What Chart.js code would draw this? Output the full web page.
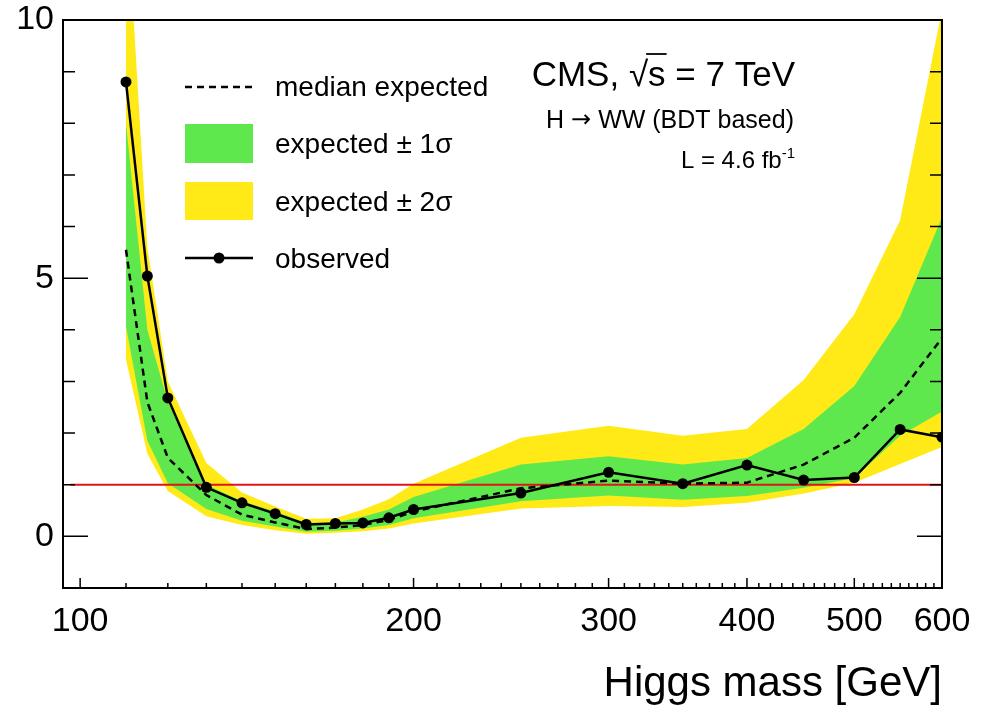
<!DOCTYPE html>
<html>
<head>
<meta charset="utf-8">
<script src="https://cdn.jsdelivr.net/npm/chart.js@4/dist/chart.umd.min.js"></script>
<style>
html,body{margin:0;padding:0;background:#fff;}
#wrap{width:990px;height:705px;position:relative;}
</style>
</head>
<body>
<div id="wrap"><canvas id="c" width="990" height="705"></canvas></div>
<script>
// ---- data ----
const masses      = [110, 115, 120, 130, 140, 150, 160, 170, 180, 190, 200, 250, 300, 350, 400, 450, 500, 550, 600];
const observed    = [8.80, 5.04, 2.68, 0.95, 0.65, 0.44, 0.23, 0.25, 0.26, 0.36, 0.52, 0.84, 1.24, 1.02, 1.38, 1.09, 1.14, 2.07, 1.92];
const medianExp   = [5.55, 2.60, 1.52, 0.80, 0.42, 0.27, 0.14, 0.17, 0.22, 0.32, 0.48, 0.93, 1.08, 1.02, 1.04, 1.39, 1.91, 2.78, 3.84];
const sigma1Up    = [8.00, 4.00, 2.60, 1.00, 0.68, 0.48, 0.26, 0.27, 0.38, 0.52, 0.76, 1.39, 1.55, 1.39, 1.52, 2.08, 2.91, 4.25, 6.18];
const sigma1Down  = [4.06, 1.85, 1.03, 0.53, 0.30, 0.19, 0.09, 0.11, 0.15, 0.22, 0.35, 0.68, 0.79, 0.71, 0.78, 0.94, 1.13, 1.95, 2.42];
const sigma2Up    = [12.5, 5.60, 3.00, 1.42, 0.85, 0.58, 0.34, 0.35, 0.52, 0.72, 1.02, 1.91, 2.14, 1.95, 2.08, 3.03, 4.30, 6.12, 10.2];
const sigma2Down  = [3.42, 1.60, 0.88, 0.39, 0.22, 0.12, 0.05, 0.07, 0.10, 0.15, 0.25, 0.54, 0.59, 0.57, 0.65, 0.83, 1.04, 1.40, 1.73];
const smLineX     = [98, 600];
const smLineY     = [1, 1];

const xMajorTicks = [100, 200, 300, 400, 500, 600];
const xMinorTicks = [110, 120, 130, 140, 150, 160, 170, 180, 190,
                     210, 220, 230, 240, 250, 260, 270, 280, 290,
                     310, 320, 330, 340, 350, 360, 370, 380, 390,
                     410, 420, 430, 440, 450, 460, 470, 480, 490,
                     510, 520, 530, 540, 550, 560, 570, 580, 590];
const yMajorTicks = [0, 5, 10];
const yMinorTicks = [-1, 1, 2, 3, 4, 6, 7, 8, 9];

const legendLabels = ['median expected', 'expected \u00b1 1\u03c3', 'expected \u00b1 2\u03c3', 'observed'];

const FONT = "'Liberation Sans', Arial, Helvetica, sans-serif";
const GREEN = '#5fe84e';
const YELLOW = '#ffea17';
const RED = '#e0141a';

const pts = arr => masses.map((m, i) => ({x: m, y: arr[i]}));

const framePlugin = {
  id: 'frame',
  afterDraw(chart) {
    const ctx = chart.ctx, a = chart.chartArea;
    const xs = chart.scales.x, ys = chart.scales.y;
    ctx.save();
    ctx.strokeStyle = '#000';
    // ticks
    ctx.lineWidth = 1.5;
    ctx.beginPath();
    xMajorTicks.forEach(v => { const p = xs.getPixelForValue(v); ctx.moveTo(p, a.bottom); ctx.lineTo(p, a.bottom - 10); });
    xMinorTicks.forEach(v => { const p = xs.getPixelForValue(v); ctx.moveTo(p, a.bottom); ctx.lineTo(p, a.bottom - 5); });
    yMajorTicks.forEach(v => { const p = ys.getPixelForValue(v);
      ctx.moveTo(a.left, p); ctx.lineTo(a.left + 25, p);
      ctx.moveTo(a.right, p); ctx.lineTo(a.right - 25, p); });
    yMinorTicks.forEach(v => { const p = ys.getPixelForValue(v);
      ctx.moveTo(a.left, p); ctx.lineTo(a.left + 12, p);
      ctx.moveTo(a.right, p); ctx.lineTo(a.right - 12, p); });
    ctx.stroke();
    // frame
    ctx.lineWidth = 2;
    ctx.strokeRect(a.left, a.top, a.right - a.left, a.bottom - a.top);

    // legend
    const lx0 = 185, lx1 = 253, tx = 275;
    ctx.lineWidth = 2.5;
    ctx.setLineDash([7, 5]);
    ctx.beginPath(); ctx.moveTo(lx0, 87); ctx.lineTo(lx1, 87); ctx.stroke();
    ctx.setLineDash([]);
    ctx.fillStyle = GREEN; ctx.fillRect(lx0, 124, lx1 - lx0, 39);
    ctx.fillStyle = YELLOW; ctx.fillRect(lx0, 182, lx1 - lx0, 38);
    ctx.beginPath(); ctx.moveTo(lx0, 258); ctx.lineTo(lx1, 258); ctx.stroke();
    ctx.fillStyle = '#000';
    ctx.beginPath(); ctx.arc(219, 258, 5.5, 0, Math.PI * 2); ctx.fill();
    ctx.font = '28px ' + FONT;
    ctx.textAlign = 'left'; ctx.textBaseline = 'alphabetic';
    ctx.fillText(legendLabels[0], tx, 96);
    ctx.fillText(legendLabels[1], tx, 153);
    ctx.fillText(legendLabels[2], tx, 211);
    ctx.fillText(legendLabels[3], tx, 268);

    // CMS label with sqrt(s)
    const right = 795;
    ctx.font = '35px ' + FONT;
    const p1 = 'CMS, ', p2 = '\u221a', p3 = 's', p4 = ' = 7 TeV';
    const w1 = ctx.measureText(p1).width, w2 = ctx.measureText(p2).width,
          w3 = ctx.measureText(p3).width, w4 = ctx.measureText(p4).width;
    let x = right - (w1 + w2 + w3 + w4);
    const by = 86;
    ctx.fillText(p1, x, by); x += w1;
    ctx.fillText(p2, x, by); x += w2;
    ctx.fillText(p3, x, by);
    ctx.lineWidth = 1.8;
    ctx.beginPath(); ctx.moveTo(x - 2, by - 32); ctx.lineTo(x + w3 + 1, by - 32); ctx.stroke();
    x += w3;
    ctx.fillText(p4, x, by);

    // H -> WW line, arrow from DejaVu Sans for a wider glyph
    ctx.textAlign = 'left';
    const hA = 'H ', hB = '\u2192', hC = ' WW (BDT based)';
    ctx.font = '25px ' + FONT;
    const wA = ctx.measureText(hA).width, wC = ctx.measureText(hC).width;
    ctx.font = "24px 'DejaVu Sans'";
    const wB = ctx.measureText(hB).width;
    let hx = 794 - (wA + wB + wC);
    ctx.font = '25px ' + FONT;
    ctx.fillText(hA, hx, 128); hx += wA;
    ctx.font = "24px 'DejaVu Sans'";
    ctx.fillText(hB, hx, 127); hx += wB;
    ctx.font = '25px ' + FONT;
    ctx.fillText(hC, hx, 128);

    ctx.textAlign = 'right';
    ctx.font = '15px ' + FONT;
    const supW = ctx.measureText('-1').width;
    ctx.fillText('-1', 795, 158);
    ctx.font = '24px ' + FONT;
    ctx.fillText('L = 4.6 fb', 795 - supW, 168);

    // x axis title
    ctx.font = '42px ' + FONT;
    ctx.textAlign = 'right';
    ctx.fillText('Higgs mass [GeV]', a.right, 696);
    ctx.restore();
  }
};

const chart = new Chart(document.getElementById('c'), {
  type: 'line',
  data: {
    datasets: [
      {label: 'observed', data: pts(observed), borderColor: '#000', backgroundColor: '#000',
       borderWidth: 2.5, pointRadius: 5.5, pointHoverRadius: 5.5, pointBorderWidth: 0, fill: false, order: 0},
      {label: 'median expected', data: pts(medianExp), borderColor: '#000', borderDash: [7, 5],
       borderWidth: 2.5, pointRadius: 0, fill: false, order: 1},
      {label: 'SM', data: smLineX.map((m, i) => ({x: m, y: smLineY[i]})), borderColor: RED,
       borderWidth: 2, pointRadius: 0, fill: false, order: 2},
      {label: 'expected \u00b1 1\u03c3', data: pts(sigma1Up), borderColor: 'rgba(0,0,0,0)', borderWidth: 0.01,
       backgroundColor: GREEN, pointRadius: 0, fill: '+1', order: 3},
      {label: '1s down', data: pts(sigma1Down), borderColor: 'rgba(0,0,0,0)', borderWidth: 0.01,
       pointRadius: 0, fill: false, order: 4},
      {label: 'expected \u00b1 2\u03c3', data: pts(sigma2Up), borderColor: 'rgba(0,0,0,0)', borderWidth: 0.01,
       backgroundColor: YELLOW, pointRadius: 0, fill: '+1', order: 5},
      {label: '2s down', data: pts(sigma2Down), borderColor: 'rgba(0,0,0,0)', borderWidth: 0.01,
       pointRadius: 0, fill: false, order: 6}
    ]
  },
  options: {
    responsive: false,
    devicePixelRatio: 1,
    animation: false,
    events: [],
    layout: {padding: {top: 20, right: 48, left: 0, bottom: 0}},
    plugins: {legend: {display: false}, tooltip: {enabled: false}, title: {display: false}},
    elements: {line: {tension: 0}},
    scales: {
      x: {
        type: 'logarithmic', min: 96.5, max: 600,
        afterBuildTicks: s => { s.ticks = xMajorTicks.concat(xMinorTicks).sort((a, b) => a - b).map(v => ({value: v})); },
        afterFit: s => { s.height = 117; s.paddingLeft = 0; s.paddingRight = 0; },
        grid: {display: false, drawTicks: false},
        border: {display: false},
        ticks: {autoSkip: false, maxRotation: 0, minRotation: 0, padding: 13, color: '#000',
                font: {family: FONT, size: 34},
                callback: v => xMajorTicks.includes(v) ? String(v) : ''}
      },
      y: {
        type: 'linear', min: -1, max: 10,
        afterBuildTicks: s => { s.ticks = yMajorTicks.concat(yMinorTicks).sort((a, b) => a - b).map(v => ({value: v})); },
        afterFit: s => { s.width = 63; s.paddingTop = 0; s.paddingBottom = 0; },
        grid: {display: false, drawTicks: false},
        border: {display: false},
        ticks: {autoSkip: false, padding: 9, color: '#000', font: {family: FONT, size: 34},
                callback: v => yMajorTicks.includes(v) ? String(v) : ''}
      }
    }
  },
  plugins: [framePlugin]
});
</script>
</body>
</html>
